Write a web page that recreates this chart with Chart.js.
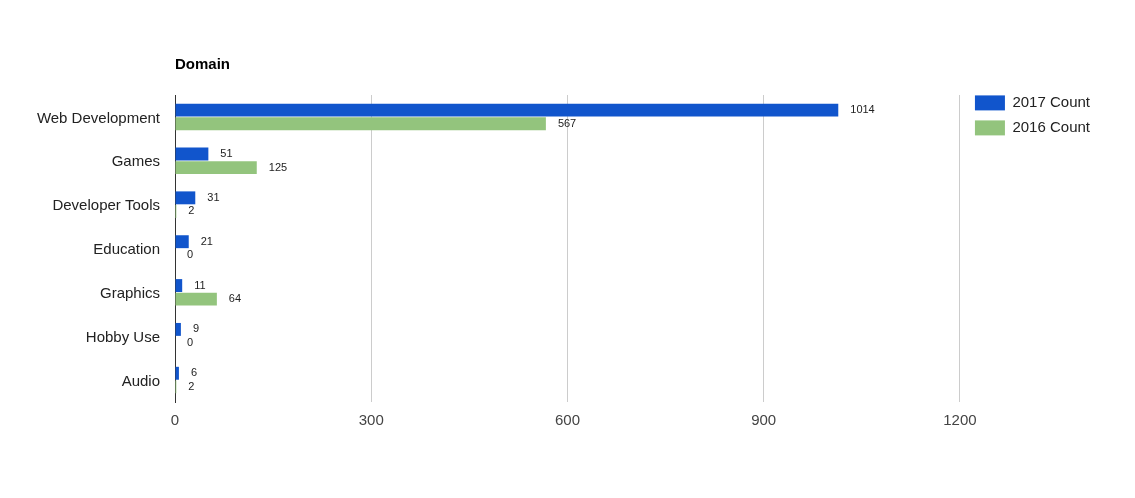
<!DOCTYPE html>
<html>
<head>
<meta charset="utf-8">
<script src="https://cdn.jsdelivr.net/npm/chart.js@4.4.0/dist/chart.umd.min.js"></script>
<style>
  html, body { margin: 0; padding: 0; background: #fff; }
  #wrap { width: 1135px; height: 498px; }
</style>
</head>
<body>
<div id="wrap"><canvas id="myChart" width="1135" height="498"></canvas></div>
<script>
// data
const categories = ["Web Development", "Games", "Developer Tools", "Education", "Graphics", "Hobby Use", "Audio"];
const count2017 = [1014, 51, 31, 21, 11, 9, 6];
const count2016 = [567, 125, 2, 0, 64, 0, 2];
const xTicks = [0, 300, 600, 900, 1200];

const FONT = "'Liberation Sans', Arial, sans-serif";

// value labels next to each bar
const barLabels = {
  id: "barLabels",
  afterLayout(chart) {
    // nudge legend a bit right of the plot edge
    chart.legend.left += 5;
    chart.legend.right += 5;
  },
  afterDatasetsDraw(chart) {
    const c = chart.ctx;
    c.save();
    c.font = "11px " + FONT;
    c.fillStyle = "#222";
    c.textAlign = "left";
    c.textBaseline = "middle";
    chart.data.datasets.forEach((ds, i) => {
      chart.getDatasetMeta(i).data.forEach((bar, j) => {
        c.fillText(String(ds.data[j]), bar.x + 12, bar.y);
      });
    });
    c.restore();
  },
};

new Chart(document.getElementById("myChart"), {
  type: "bar",
  data: {
    labels: categories,
    datasets: [
      {
        label: "2017 Count",
        data: count2017,
        backgroundColor: "#1155cc",
        categoryPercentage: 0.62,
        barPercentage: 0.95,
      },
      {
        label: "2016 Count",
        data: count2016,
        backgroundColor: "#93c47d",
        categoryPercentage: 0.62,
        barPercentage: 0.95,
      },
    ],
  },
  plugins: [barLabels],
  options: {
    indexAxis: "y",
    responsive: false,
    animation: false,
    layout: { padding: { left: 0, right: 40, top: 0, bottom: 0 } },
    plugins: {
      tooltip: { enabled: false },
      title: {
        display: true,
        text: "Domain",
        align: "start",
        fullSize: false,
        color: "#000",
        font: { family: FONT, size: 15, weight: "bold" },
        padding: { top: 56, bottom: 21 },
      },
      legend: {
        position: "right",
        align: "start",
        title: {
          display: true,
          text: " ",
          font: { size: 12 },
          padding: { top: 71, bottom: 0 },
        },
        labels: {
          boxWidth: 30,
          boxHeight: 15,
          padding: 10,
          color: "#222",
          font: { family: FONT, size: 15 },
        },
      },
    },
    scales: {
      x: {
        min: 0,
        max: 1200,
        afterBuildTicks(scale) {
          scale.ticks = xTicks.map((v) => ({ value: v }));
        },
        afterFit(scale) {
          scale.height = 96;
        },
        border: { display: false },
        grid: {
          drawTicks: false,
          color: (ctx) => (ctx.index === 0 ? "rgba(0,0,0,0)" : "#cccccc"),
        },
        ticks: {
          padding: 10,
          color: "#444",
          font: { family: FONT, size: 15 },
          callback: (value) => String(value),
        },
      },
      y: {
        afterFit(scale) {
          scale.width = 175;
        },
        border: { display: true, color: "#333", width: 1 },
        grid: { display: false, drawTicks: false },
        ticks: {
          padding: 15,
          labelOffset: 1.5,
          color: "#222",
          font: { family: FONT, size: 15 },
        },
      },
    },
  },
});
</script>
</body>
</html>
